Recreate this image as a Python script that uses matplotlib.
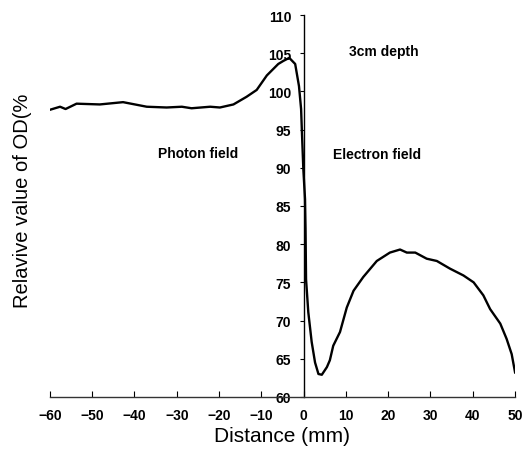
import matplotlib.pyplot as plt

# profile
distance = [-60, -57.6, -56.3, -53.7, -48.2, -42.7, -37.1, -32.4, -28.8, -26.5, -22.1,
            -19.8, -16.6, -13.5, -11.1, -8.7, -6.0, -4.8, -3.4, -2.0, -1.1, -0.6, -0.4,
            -0.07, 0.33, 0.45, 0.57, 1.1, 1.9, 2.7, 3.5, 4.3, 5.5, 6.2, 7.0, 8.6, 10.2,
            11.8, 14.1, 17.3, 20.4, 22.8, 24.4, 26.4, 29.1, 31.5, 34.6, 37.8, 40.2,
            42.5, 44.1, 46.5, 48.0, 49.2, 50.0]
od = [97.6, 98.0, 97.7, 98.4, 98.3, 98.6, 98.0, 97.9, 98.0, 97.8, 98.0,
      97.9, 98.3, 99.3, 100.2, 102.1, 103.6, 104.0, 104.4, 103.6, 100.7, 97.7, 94.6,
      89.8, 85.9, 82.0, 75.4, 71.1, 67.2, 64.5, 63.0, 62.9, 63.9, 64.8, 66.7, 68.5, 71.7,
      73.9, 75.7, 77.8, 78.9, 79.3, 78.9, 78.9, 78.1, 77.8, 76.8, 75.9, 75.0,
      73.3, 71.5, 69.6, 67.6, 65.6, 63.2]

xticks = list(range(-60, 51, 10))
yticks = list(range(60, 111, 5))

plt.rcParams['font.family'] = ['Liberation Sans', 'DejaVu Sans']

fig = plt.figure(figsize=(5.31, 4.60), dpi=100)
ax = fig.add_axes([0.094, 0.135, 0.876, 0.830])
ax.plot(distance, od, color='black', linewidth=1.7)

ax.set_xlim(-60, 50)
ax.set_ylim(60, 110)
ax.spines['left'].set_position(('data', 0))
ax.spines['top'].set_visible(False)
ax.spines['right'].set_visible(False)
ax.spines['left'].set_linewidth(1.0)
ax.spines['bottom'].set_linewidth(1.0)
ax.spines['bottom'].set_color('#333333')

ax.set_xticks(xticks)
ax.set_xticklabels([str(v).replace('-', '\u2212') for v in xticks])
ax.set_yticks(yticks)
ax.tick_params(axis='x', direction='in', length=4, pad=8, labelsize=10)
ax.tick_params(axis='y', direction='out', length=3, pad=6, labelsize=10)
for lab in ax.get_xticklabels() + ax.get_yticklabels():
    lab.set_fontweight('bold')

ax.text(-25, 91.9, 'Photon field', ha='center', va='center', fontsize=10,
        fontweight='bold')
ax.text(17.4, 91.8, 'Electron field', ha='center', va='center', fontsize=10,
        fontweight='bold')
ax.text(19.0, 105.3, '3cm depth', ha='center', va='center', fontsize=10,
        fontweight='bold')

ax.set_xlabel('Distance (mm)', fontsize=15, labelpad=3)
fig.text(0.043, 0.563, 'Relavive value of OD(%', rotation=90, ha='center',
         va='center', fontsize=14.5)

fig.savefig('out.png', dpi=100)
